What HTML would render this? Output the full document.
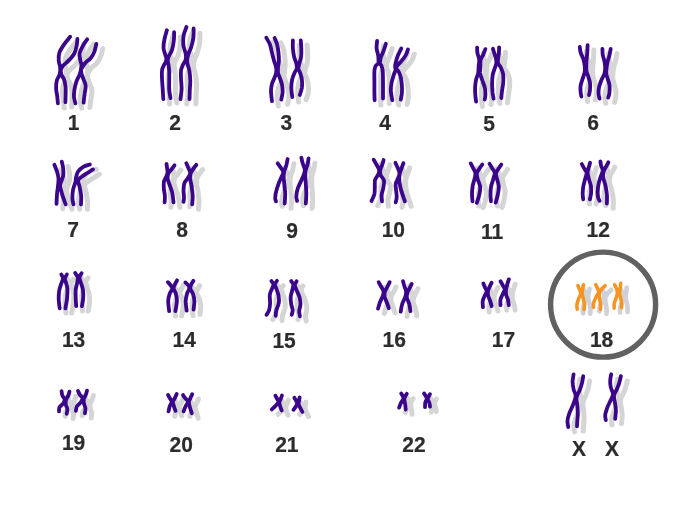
<!DOCTYPE html>
<html lang="en"><head><meta charset="utf-8"><title>Karyotype - Trisomy 18</title>
<style>
html,body{margin:0;padding:0;background:#fff;}
body{width:680px;height:510px;overflow:hidden;}
svg{display:block;filter:blur(0.4px);}
.l{font-family:"Liberation Sans",Arial,Helvetica,sans-serif;font-weight:bold;font-size:21px;fill:#2c2c2c;stroke:#2c2c2c;stroke-width:0.2px;text-anchor:middle;}
.s{fill:none;stroke:#d5d5d5;stroke-linecap:round;stroke-linejoin:round;}
.p{fill:none;stroke:#3a058a;stroke-linecap:round;stroke-linejoin:round;}
.o{fill:none;stroke:#f7931e;stroke-linecap:round;stroke-linejoin:round;}
</style></head><body>
<svg width="680" height="510" viewBox="0 0 680 510">
<rect width="680" height="510" fill="#fff"/>

<g class="s" transform="translate(6.3 4.8)">
<path stroke-width="5.0" d="M70.2 36.7C69.2 38.0 65.9 41.7 64.1 44.4C62.3 47.1 60.3 50.0 59.4 52.7C58.5 55.4 58.6 58.0 58.7 60.5C58.8 63.0 60.0 65.2 60.2 67.5C60.4 69.8 60.2 72.3 59.6 74.5C59.0 76.7 57.4 78.2 56.8 80.6C56.2 83.0 56.0 86.2 56.1 88.8C56.2 91.4 56.9 93.6 57.2 96.0C57.5 98.4 57.8 102.1 57.9 103.3M77.4 38.8C77.3 40.0 77.1 43.5 76.6 46.0C76.1 48.5 75.6 51.1 74.3 53.5C73.0 55.9 70.5 58.6 68.6 60.6C66.7 62.6 64.3 64.3 63.0 65.8C61.7 67.3 61.2 68.0 60.9 69.5C60.6 71.0 60.9 72.8 61.4 74.5C61.9 76.2 63.4 77.5 64.1 79.6C64.8 81.6 65.3 84.2 65.6 86.8C65.8 89.4 65.6 92.4 65.6 95.0C65.6 97.6 65.4 101.0 65.4 102.2M87.2 39.3C86.5 40.3 84.4 43.0 83.1 45.4C81.8 47.8 79.9 51.1 79.5 53.7C79.1 56.3 80.2 58.9 80.5 60.9C80.8 62.9 81.6 63.3 81.4 65.5C81.3 67.7 80.7 71.3 79.8 74.0C79.0 76.7 77.3 78.9 76.4 81.6C75.5 84.2 74.8 87.3 74.4 89.9C74.0 92.5 73.8 94.9 74.0 97.1C74.2 99.3 75.2 102.3 75.4 103.3M96.3 43.9C96.0 45.2 95.4 49.2 94.4 51.6C93.5 54.0 92.1 56.5 90.6 58.3C89.1 60.1 86.8 61.4 85.6 62.6C84.4 63.9 84.0 64.6 83.3 65.8C82.5 67.0 81.5 68.1 81.2 69.5C80.9 70.9 81.2 72.3 81.6 74.0C82.0 75.7 82.9 77.6 83.6 79.6C84.3 81.5 85.5 83.3 85.7 85.7C85.9 88.1 84.9 91.2 84.6 94.0C84.2 96.8 83.8 101.2 83.6 102.7"/>
<path stroke-width="5.0" d="M166.9 30.3C166.5 31.7 165.2 35.6 164.6 38.5C164.0 41.4 163.4 45.2 163.5 47.8C163.6 50.4 164.6 52.2 165.1 54.0C165.6 55.8 166.1 57.0 166.3 58.3C166.4 59.5 166.4 60.4 166.0 61.5C165.7 62.6 164.8 63.3 164.1 64.8C163.4 66.3 162.3 68.1 162.0 70.4C161.7 72.7 161.9 75.5 162.0 78.6C162.1 81.7 162.5 85.5 162.7 88.9C162.9 92.3 163.2 97.5 163.3 99.2M174.1 32.2C174.1 33.6 174.2 37.7 173.8 40.6C173.5 43.5 172.8 47.4 172.0 49.9C171.2 52.4 169.9 54.0 169.2 55.5C168.5 57.0 168.2 57.6 168.0 58.6C167.8 59.6 167.7 60.5 167.8 61.5C167.9 62.5 168.3 63.1 168.5 64.8C168.7 66.5 169.1 68.8 169.2 71.4C169.3 74.1 169.2 77.6 169.2 80.7C169.2 83.8 169.0 87.0 169.2 89.9C169.4 92.8 170.3 96.8 170.5 98.2M186.5 27.0C186.0 28.4 184.1 32.4 183.6 35.4C183.1 38.4 183.0 42.0 183.3 44.7C183.6 47.5 184.7 50.0 185.2 51.9C185.7 53.8 186.0 54.9 186.0 56.3C186.1 57.7 185.9 59.1 185.4 60.5C185.0 61.9 183.8 62.9 183.1 64.5C182.4 66.2 181.3 68.1 181.0 70.4C180.7 72.8 180.9 75.5 181.0 78.6C181.1 81.7 181.7 85.5 181.6 88.9C181.5 92.3 180.7 97.5 180.5 99.2M193.6 28.4C193.6 29.9 193.8 34.4 193.4 37.5C193.0 40.6 192.1 44.2 191.3 46.8C190.5 49.4 189.4 51.3 188.8 53.0C188.2 54.7 187.9 55.5 187.7 56.8C187.4 58.0 187.2 59.2 187.3 60.5C187.3 61.8 187.3 62.7 187.7 64.5C188.1 66.3 189.1 68.7 189.5 71.4C189.9 74.1 190.2 77.6 190.3 80.7C190.4 83.8 189.9 86.8 189.8 89.9C189.7 93.0 189.6 97.7 189.5 99.2"/>
<path stroke-width="5.0" d="M266.3 37.7C266.9 38.8 268.9 41.9 269.9 44.4C270.8 46.9 271.3 50.0 272.0 52.7C272.7 55.5 273.4 58.5 274.1 60.9C274.8 63.3 275.7 65.2 276.0 67.1C276.4 69.0 276.5 70.8 276.2 72.5C276.0 74.2 275.3 75.6 274.6 77.5C273.9 79.4 272.6 81.5 272.0 83.7C271.4 85.9 271.0 88.0 271.0 90.9C271.0 93.8 271.8 99.5 272.0 101.2M274.6 38.0C275.0 39.1 276.5 41.9 277.1 44.4C277.8 46.9 278.2 50.0 278.5 52.7C278.8 55.5 279.0 58.5 278.9 60.9C278.8 63.3 278.2 65.2 278.1 67.1C277.9 69.0 277.7 70.8 278.0 72.5C278.3 74.2 279.0 75.5 279.7 77.5C280.4 79.5 281.5 82.3 282.0 84.7C282.5 87.1 282.7 89.4 282.6 91.9C282.5 94.4 281.5 98.3 281.3 99.6M292.9 40.3C292.9 41.7 292.7 45.8 292.9 48.5C293.1 51.2 293.6 54.4 294.1 56.8C294.7 59.2 295.8 61.4 296.2 63.0C296.6 64.6 296.7 65.5 296.8 66.5C296.9 67.5 297.0 68.0 296.6 69.0C296.3 70.0 295.4 71.0 294.6 72.8C293.8 74.6 292.7 77.1 292.1 79.6C291.6 82.1 291.3 84.9 291.3 87.8C291.3 90.7 292.1 95.5 292.3 97.1M300.8 40.3C300.9 41.7 301.2 45.8 301.3 48.5C301.4 51.2 301.4 54.4 301.1 56.8C300.8 59.2 299.9 61.4 299.5 63.0C299.1 64.6 298.8 65.5 298.6 66.5C298.4 67.5 298.1 68.0 298.4 69.0C298.6 70.0 299.5 71.0 300.1 72.8C300.7 74.6 301.6 77.1 301.9 79.6C302.2 82.1 302.2 85.2 301.9 87.8C301.5 90.4 300.1 93.8 299.8 95.0"/>
<path stroke-width="5.0" d="M377.1 41.0C377.0 42.2 376.4 46.0 376.6 48.4C376.8 50.8 377.9 53.5 378.2 55.6C378.5 57.7 378.5 59.4 378.5 60.7C378.5 62.0 378.8 62.6 378.3 63.5C377.8 64.4 376.2 64.8 375.6 66.0C375.0 67.2 374.6 68.6 374.4 71.0C374.2 73.4 374.4 77.3 374.4 80.6C374.4 83.9 374.4 87.6 374.4 90.9C374.4 94.2 374.6 98.7 374.6 100.2M385.9 43.8C385.5 45.1 384.2 49.2 383.3 51.5C382.4 53.8 381.2 56.1 380.7 57.7C380.2 59.3 380.3 60.0 380.2 61.0C380.1 62.0 379.8 62.7 380.0 63.5C380.2 64.3 381.1 64.5 381.6 66.0C382.1 67.5 382.6 69.6 382.8 72.4C383.0 75.2 383.0 79.5 383.0 82.7C383.0 86.0 383.0 89.2 383.0 91.9C383.0 94.6 383.0 97.5 383.0 98.6M401.3 48.4C400.8 49.4 399.2 52.5 398.3 54.6C397.4 56.7 396.7 58.8 396.2 60.7C395.7 62.6 395.3 64.4 395.1 65.9C395.0 67.5 395.8 68.4 395.5 70.0C395.2 71.6 394.2 73.3 393.6 75.4C393.0 77.5 392.1 80.1 391.6 82.7C391.1 85.3 390.7 88.0 390.8 90.9C390.9 93.8 392.1 98.7 392.3 100.2M408.0 49.4C407.6 50.4 406.7 53.5 405.5 55.6C404.3 57.7 402.2 60.1 400.8 61.8C399.4 63.5 397.9 64.9 397.2 66.0C396.4 67.1 396.1 67.5 396.4 68.5C396.7 69.5 398.1 70.5 398.8 72.0C399.5 73.5 400.3 75.2 400.8 77.5C401.3 79.8 401.7 83.1 401.9 85.7C402.1 88.3 402.1 90.7 401.9 93.0C401.7 95.3 401.0 98.5 400.8 99.6"/>
<path stroke-width="5.0" d="M477.1 47.7C477.2 48.7 477.1 51.4 477.5 53.4C477.9 55.4 479.0 57.5 479.2 59.6C479.4 61.7 478.9 63.8 478.7 66.0C478.5 68.2 478.6 70.8 478.2 73.0C477.8 75.2 476.6 77.0 476.1 79.5C475.6 82.0 475.2 85.0 475.1 87.7C475.0 90.5 475.2 93.7 475.4 96.0C475.6 98.3 476.0 100.7 476.1 101.6M485.4 49.1C485.0 50.0 484.1 52.6 483.3 54.4C482.5 56.1 481.2 57.7 480.7 59.6C480.2 61.5 480.6 63.8 480.5 66.0C480.4 68.2 479.8 70.8 480.0 73.0C480.3 75.2 481.2 77.0 482.0 79.5C482.8 82.0 484.3 85.1 484.9 87.7C485.5 90.3 485.4 93.0 485.4 95.0C485.4 97.0 484.8 98.8 484.7 99.6M492.9 48.8C493.2 49.7 494.2 52.7 494.7 54.4C495.2 56.1 495.8 57.6 496.1 59.1C496.3 60.6 496.5 61.9 496.3 63.5C496.1 65.1 495.3 66.5 494.7 68.5C494.1 70.5 493.0 72.7 492.6 75.4C492.2 78.1 492.1 81.8 492.1 84.7C492.1 87.6 492.4 90.6 492.6 92.9C492.9 95.2 493.4 97.6 493.6 98.6M499.1 47.4C499.1 48.4 499.0 51.4 498.8 53.4C498.6 55.4 498.1 57.4 498.0 59.1C497.9 60.8 497.7 62.1 498.1 63.5C498.6 64.9 500.0 65.7 500.8 67.5C501.6 69.3 502.8 71.9 503.2 74.4C503.6 76.9 503.4 79.7 503.2 82.6C503.0 85.5 502.2 89.3 501.9 91.9C501.6 94.5 501.4 97.0 501.3 98.0"/>
<path stroke-width="5.0" d="M579.8 46.8C579.9 47.7 580.0 50.4 580.6 52.4C581.2 54.4 582.5 56.5 583.2 58.6C583.9 60.7 584.3 62.6 584.6 64.8C584.8 67.0 585.1 69.2 584.8 71.5C584.5 73.8 583.4 76.1 582.7 78.5C582.0 80.9 581.0 83.5 580.6 85.7C580.2 87.9 580.5 90.1 580.6 91.9C580.7 93.7 581.3 95.8 581.4 96.6M587.6 45.2C587.5 46.4 587.5 50.0 587.3 52.4C587.1 54.8 586.8 57.5 586.6 59.6C586.4 61.8 586.3 63.3 586.3 65.3C586.3 67.3 586.2 69.5 586.6 71.5C587.0 73.5 588.0 75.5 588.6 77.5C589.2 79.5 589.9 81.5 590.1 83.7C590.3 85.9 590.1 89.0 589.9 90.9C589.7 92.8 589.1 94.3 589.0 95.0M602.4 48.8C602.5 49.8 602.4 52.5 602.7 54.5C603.0 56.5 603.9 58.7 604.3 60.7C604.7 62.8 605.1 64.7 605.2 66.8C605.2 68.9 605.2 71.2 604.5 73.5C603.9 75.8 602.1 78.2 601.2 80.6C600.3 83.0 599.3 85.6 598.9 87.8C598.5 90.0 598.5 92.2 598.6 94.0C598.7 95.8 599.4 97.8 599.6 98.6M610.7 48.8C610.5 49.9 609.9 53.4 609.4 55.5C608.9 57.6 608.0 59.7 607.6 61.7C607.2 63.7 606.9 65.4 606.7 67.4C606.5 69.4 606.2 71.7 606.4 73.5C606.5 75.3 607.1 76.5 607.6 78.5C608.1 80.5 609.3 83.3 609.6 85.7C609.9 88.1 609.6 91.0 609.4 93.0C609.2 95.0 608.4 96.8 608.2 97.6"/>
<path stroke-width="5.0" d="M54.4 164.8C54.8 165.9 56.3 169.2 57.0 171.5C57.7 173.8 58.3 176.3 58.5 178.7C58.7 181.1 58.2 183.3 58.0 185.9C57.8 188.5 57.2 191.1 57.0 194.1C56.8 197.1 56.6 202.3 56.5 203.9M61.8 161.7C62.0 162.8 63.0 166.1 63.2 168.4C63.4 170.7 63.6 173.4 63.2 175.6C62.9 177.8 61.6 180.1 61.1 181.8C60.6 183.5 59.9 183.9 60.1 185.9C60.3 187.9 61.2 191.0 62.1 194.1C63.0 197.2 65.1 202.7 65.7 204.4M89.9 164.5C88.8 164.9 85.3 165.6 83.3 166.8C81.3 168.0 79.3 169.7 78.1 171.5C76.9 173.3 76.4 176.0 76.0 177.7C75.6 179.4 76.0 179.8 75.5 181.8C75.0 183.9 73.5 187.2 73.0 190.0C72.5 192.8 72.3 195.9 72.4 198.3C72.5 200.7 73.3 203.4 73.5 204.4M93.0 169.4C92.1 170.0 89.4 171.7 87.4 173.0C85.4 174.3 82.8 175.8 81.2 177.1C79.7 178.4 78.4 179.1 78.1 180.7C77.8 182.3 79.1 184.3 79.6 186.9C80.1 189.5 81.0 193.3 81.2 196.2C81.4 199.1 81.0 203.0 81.0 204.4"/>
<path stroke-width="5.0" d="M166.5 163.8C166.6 164.7 167.1 167.9 167.3 169.4C167.5 170.9 167.7 171.7 167.5 173.0C167.3 174.3 166.6 175.6 166.0 177.1C165.4 178.6 164.2 179.8 163.9 181.8C163.6 183.8 163.7 186.6 163.9 189.0C164.1 191.4 164.8 194.0 164.9 196.2C165.0 198.4 164.7 201.4 164.6 202.4M174.5 165.3C173.9 166.1 172.1 168.5 171.1 169.9C170.1 171.3 168.9 172.0 168.3 173.5C167.7 175.0 167.5 176.8 167.7 178.7C167.9 180.6 168.9 182.7 169.6 184.9C170.3 187.1 171.4 189.2 172.1 192.1C172.8 195.0 173.3 200.7 173.5 202.4M186.3 163.2C186.7 164.1 187.9 166.8 188.6 168.4C189.2 170.0 190.3 171.4 190.2 173.0C190.1 174.6 189.0 176.1 188.1 177.7C187.2 179.3 185.3 180.8 184.5 182.8C183.7 184.9 183.6 187.6 183.5 190.0C183.4 192.4 184.0 195.2 184.0 197.2C184.0 199.2 183.6 201.1 183.5 201.9M196.3 164.8C195.8 165.5 194.2 167.5 193.3 168.9C192.4 170.3 191.2 171.7 190.7 173.5C190.2 175.3 190.2 177.5 190.4 179.7C190.6 181.9 191.3 184.2 191.7 186.9C192.1 189.7 192.6 193.3 192.7 196.2C192.8 199.1 192.3 203.0 192.2 204.4"/>
<path stroke-width="5.0" d="M277.7 163.3C278.2 164.0 279.7 165.9 280.6 167.4C281.5 168.9 283.0 170.6 283.2 172.1C283.4 173.6 282.4 174.7 281.6 176.7C280.8 178.7 279.4 181.3 278.5 183.9C277.6 186.5 276.6 189.7 276.0 192.1C275.4 194.5 275.2 196.8 275.2 198.3C275.2 199.9 275.9 200.9 276.0 201.4M287.6 159.0C287.4 160.1 286.9 163.3 286.3 165.4C285.7 167.5 284.6 169.4 284.2 171.5C283.8 173.6 283.6 175.3 283.7 177.7C283.8 180.1 284.2 183.2 284.5 186.0C284.8 188.8 285.2 191.3 285.2 194.2C285.2 197.1 284.8 201.9 284.7 203.5M301.4 157.6C301.6 158.6 302.1 161.3 302.7 163.3C303.3 165.3 304.6 167.6 304.8 169.5C305.0 171.4 304.5 172.5 303.8 174.6C303.1 176.7 301.7 179.4 300.7 181.8C299.7 184.2 298.3 186.6 297.6 189.0C296.9 191.4 296.4 194.3 296.3 196.3C296.2 198.3 297.0 200.1 297.1 200.9M308.6 158.4C308.4 159.4 308.1 162.4 307.6 164.3C307.1 166.2 306.2 167.9 305.8 170.0C305.4 172.1 305.3 174.4 305.3 176.7C305.3 179.0 305.6 181.0 305.8 183.9C306.0 186.8 306.3 190.9 306.3 194.2C306.3 197.5 305.9 201.9 305.8 203.5"/>
<path stroke-width="5.0" d="M373.7 159.7C374.2 160.5 375.7 163.1 376.6 164.8C377.5 166.5 378.9 168.4 379.2 170.0C379.5 171.6 378.9 173.0 378.2 174.6C377.5 176.2 375.7 177.7 375.1 179.8C374.5 181.9 374.9 184.6 374.8 187.0C374.7 189.4 374.9 191.9 374.4 194.2C373.8 196.5 372.0 199.8 371.5 200.9M383.6 160.0C383.3 160.9 382.6 163.7 382.0 165.4C381.4 167.2 380.4 168.9 380.2 170.5C380.0 172.1 380.1 173.4 380.7 175.1C381.3 176.8 383.6 178.7 384.0 180.8C384.4 183.0 383.7 185.6 383.3 188.0C382.9 190.4 381.8 193.0 381.6 195.2C381.4 197.4 381.9 200.4 382.0 201.4M395.4 162.8C395.8 163.7 397.0 166.2 397.7 167.9C398.4 169.6 399.4 171.5 399.5 173.1C399.6 174.7 398.9 175.9 398.3 177.7C397.7 179.5 396.1 181.7 395.7 183.9C395.3 186.1 396.0 188.9 396.2 191.1C396.4 193.3 396.8 195.4 396.7 197.3C396.6 199.2 395.9 201.6 395.7 202.4M403.4 163.1C403.1 164.0 402.1 166.7 401.5 168.4C400.9 170.2 400.2 171.7 399.8 173.6C399.4 175.5 399.2 177.6 399.3 179.8C399.4 182.0 399.8 184.6 400.3 187.0C400.8 189.4 401.6 191.8 402.4 194.2C403.2 196.6 404.5 200.2 404.9 201.4"/>
<path stroke-width="5.0" d="M470.7 163.4C471.1 164.2 472.5 166.8 473.3 168.4C474.1 170.0 475.2 171.3 475.4 173.0C475.6 174.7 475.1 176.5 474.6 178.7C474.2 180.8 473.1 183.3 472.7 185.9C472.3 188.5 472.0 191.5 472.0 194.1C472.0 196.7 472.4 200.1 472.5 201.3M482.3 164.5C481.8 165.2 480.1 167.4 479.2 168.9C478.3 170.4 477.0 171.7 476.8 173.5C476.6 175.3 477.3 177.5 477.9 179.7C478.5 181.9 480.0 184.3 480.2 186.9C480.4 189.5 479.8 192.5 479.2 195.2C478.6 197.9 477.2 201.6 476.8 202.9M489.5 163.8C490.0 164.6 491.4 166.9 492.3 168.4C493.2 169.9 494.6 171.1 494.7 173.0C494.8 174.9 493.7 177.4 493.1 179.7C492.5 182.0 491.4 184.3 491.0 186.9C490.6 189.5 490.5 192.8 490.5 195.2C490.5 197.6 490.9 200.3 491.0 201.3M501.3 164.5C500.8 165.2 499.2 167.4 498.3 168.9C497.4 170.4 496.2 171.7 496.0 173.5C495.8 175.3 496.7 177.5 497.2 179.7C497.7 181.9 498.7 184.3 498.8 186.9C498.9 189.5 498.2 192.6 497.7 195.2C497.2 197.8 496.0 201.4 495.7 202.6"/>
<path stroke-width="5.0" d="M581.8 164.1C582.2 164.8 583.4 167.0 584.2 168.4C585.0 169.8 586.4 170.9 586.6 172.6C586.8 174.3 585.8 176.3 585.2 178.7C584.6 181.1 583.6 184.4 583.2 187.0C582.8 189.6 582.7 192.1 582.7 194.2C582.7 196.2 583.1 198.5 583.2 199.3M590.1 162.8C589.9 163.6 589.2 165.8 588.8 167.4C588.4 169.0 587.6 170.7 587.6 172.6C587.6 174.5 588.2 176.5 588.8 178.7C589.3 180.9 590.5 183.6 590.9 186.0C591.3 188.4 591.3 191.0 591.1 193.2C590.9 195.4 590.1 198.3 589.9 199.3M600.4 161.4C600.5 162.2 600.8 164.4 601.2 165.9C601.6 167.4 602.8 168.7 602.7 170.5C602.6 172.3 601.4 174.5 600.7 176.7C600.0 178.9 599.1 181.3 598.6 183.9C598.1 186.5 597.7 189.9 597.6 192.1C597.5 194.3 597.8 195.8 598.1 197.3C598.4 198.8 599.4 200.3 599.6 200.9M608.4 162.3C608.0 163.0 607.1 165.0 606.3 166.4C605.5 167.8 604.3 169.1 603.8 171.0C603.3 172.9 603.0 175.4 603.3 177.7C603.5 180.0 604.7 182.2 605.3 184.9C605.9 187.7 606.6 191.1 606.9 194.2C607.2 197.3 606.9 201.9 606.9 203.5"/>
<path stroke-width="5.0" d="M61.3 274.5C61.6 275.1 63.0 276.9 63.0 278.4C63.0 279.9 61.9 281.4 61.3 283.5C60.7 285.6 59.6 288.1 59.2 290.7C58.8 293.3 58.6 296.1 58.7 299.0C58.8 301.9 59.5 306.8 59.7 308.3M66.9 274.5C66.6 275.1 65.1 277.1 64.9 278.4C64.7 279.7 65.5 280.8 65.9 282.5C66.3 284.2 67.2 286.1 67.4 288.7C67.6 291.3 67.4 294.7 67.1 298.0C66.8 301.3 65.7 306.6 65.4 308.3M75.2 273.0C75.6 273.7 77.4 275.8 77.7 277.4C78.0 279.0 77.5 280.4 77.2 282.5C76.9 284.6 76.0 287.1 75.7 289.7C75.5 292.3 75.6 295.2 75.7 298.0C75.8 300.8 76.1 304.8 76.2 306.2M81.6 273.2C81.2 273.9 79.6 275.8 79.5 277.4C79.4 278.9 80.2 280.4 80.8 282.5C81.4 284.6 82.5 287.1 82.9 289.7C83.3 292.3 83.4 295.2 83.2 298.0C83.0 300.8 82.1 304.8 81.9 306.2"/>
<path stroke-width="5.0" d="M167.9 282.2C168.4 282.7 170.0 284.3 170.7 285.4C171.4 286.4 172.5 287.1 172.3 288.5C172.1 289.9 170.4 291.6 169.7 293.7C169.0 295.8 168.3 298.0 168.2 300.9C168.1 303.8 169.0 309.5 169.2 311.2M177.1 280.3C176.7 281.0 175.5 283.0 174.9 284.4C174.3 285.8 173.4 286.9 173.6 288.5C173.8 290.1 175.3 291.6 175.9 293.7C176.5 295.8 177.0 298.0 176.9 300.9C176.8 303.8 175.7 309.5 175.4 311.2M185.4 282.4C185.9 282.9 187.7 284.4 188.3 285.4C189.0 286.4 189.5 287.1 189.3 288.5C189.1 289.9 187.6 291.6 187.0 293.7C186.4 295.8 185.8 298.1 185.7 300.9C185.6 303.7 186.5 309.1 186.7 310.7M193.4 280.8C193.0 281.5 191.6 283.6 191.1 284.9C190.6 286.2 190.0 287.0 190.3 288.5C190.6 290.0 192.2 291.6 192.9 293.7C193.6 295.8 194.3 298.2 194.4 300.9C194.5 303.5 193.7 308.2 193.6 309.6"/>
<path stroke-width="5.0" d="M271.4 281.1C271.8 281.7 273.4 283.2 273.5 284.4C273.6 285.6 272.7 286.8 272.1 288.5C271.5 290.2 270.1 292.3 269.8 294.7C269.5 297.1 270.2 300.4 270.1 303.0C270.0 305.6 269.7 308.2 269.1 310.2C268.5 312.2 266.9 314.0 266.5 314.8M277.0 280.8C276.6 281.4 275.0 283.1 274.9 284.4C274.8 285.7 275.7 286.6 276.3 288.5C276.9 290.4 278.2 293.3 278.6 295.7C279.0 298.1 279.2 300.6 278.8 303.0C278.4 305.4 276.8 308.1 276.3 310.2C275.8 312.3 275.8 314.9 275.7 315.8M291.2 281.1C291.6 281.7 293.1 283.0 293.3 284.4C293.5 285.8 292.8 287.5 292.4 289.6C292.0 291.7 290.9 294.4 290.7 296.8C290.5 299.2 290.9 301.8 291.2 304.0C291.5 306.2 292.6 308.4 292.7 310.2C292.8 312.0 291.9 314.0 291.7 314.8M296.6 281.3C296.3 281.9 294.9 283.5 294.8 284.9C294.8 286.3 295.5 287.6 296.3 289.6C297.1 291.6 298.7 294.4 299.4 296.8C300.1 299.2 300.5 301.6 300.5 304.0C300.5 306.4 299.3 309.1 299.2 311.2C299.1 313.2 299.8 315.4 299.9 316.3"/>
<path stroke-width="5.0" d="M378.7 282.2C379.1 282.9 380.3 285.0 381.1 286.5C381.9 288.0 383.2 289.6 383.5 291.1C383.8 292.6 383.5 293.9 382.9 295.7C382.3 297.5 380.9 299.8 380.1 301.9C379.3 304.0 378.4 307.5 378.0 308.6M389.7 282.2C389.3 283.0 388.1 285.4 387.3 287.0C386.5 288.6 385.3 290.0 384.9 291.6C384.5 293.2 384.3 294.9 384.7 296.8C385.1 298.7 386.3 301.1 387.0 303.0C387.7 304.9 388.5 307.2 388.8 308.1M403.0 281.1C403.2 282.0 404.0 284.8 404.5 286.5C405.0 288.2 406.0 289.9 406.1 291.6C406.2 293.3 406.0 294.7 405.3 296.8C404.6 298.9 403.0 301.5 402.2 304.0C401.4 306.5 400.9 310.4 400.7 311.7M411.7 283.9C411.3 284.7 410.1 287.0 409.4 288.5C408.7 290.0 407.8 291.1 407.4 292.7C407.0 294.2 406.6 295.9 406.9 297.8C407.2 299.7 408.6 301.8 409.2 304.0C409.8 306.2 410.3 310.0 410.5 311.2"/>
<path stroke-width="5.0" d="M483.3 283.5C483.6 284.2 484.6 286.4 485.1 287.7C485.7 289.0 486.7 289.9 486.6 291.3C486.5 292.7 485.2 294.3 484.6 295.9C484.0 297.5 483.0 299.1 482.7 301.0C482.4 302.9 482.9 306.2 483.0 307.2M491.6 282.7C491.2 283.4 490.1 285.7 489.5 287.1C488.9 288.5 488.1 289.8 487.9 291.3C487.7 292.8 487.8 294.3 488.2 295.9C488.6 297.5 489.6 299.3 490.2 301.0C490.8 302.7 491.4 305.3 491.6 306.2M500.5 281.3C500.9 282.0 502.2 284.2 502.9 285.6C503.6 287.0 504.8 288.2 504.7 289.7C504.6 291.2 503.3 292.8 502.6 294.4C501.9 296.0 500.9 297.7 500.5 299.5C500.1 301.3 500.5 304.2 500.5 305.2M508.8 279.4C508.5 280.3 507.7 282.9 507.2 284.6C506.7 286.3 506.2 288.0 506.0 289.7C505.8 291.4 505.9 293.2 506.2 294.9C506.5 296.6 507.6 298.3 508.0 300.0C508.4 301.7 508.7 304.3 508.8 305.2"/>
<path stroke-width="5.0" d="M61.6 391.2C61.7 391.9 61.8 394.1 62.3 395.4C62.8 396.7 64.4 397.9 64.6 399.2C64.8 400.5 64.0 402.1 63.2 403.4C62.4 404.7 60.2 405.9 59.5 407.2C58.8 408.5 59.1 410.7 59.0 411.4M69.5 391.6C69.3 392.3 68.8 394.6 68.2 395.9C67.6 397.2 66.5 398.2 66.1 399.6C65.7 401.0 65.6 402.8 65.8 404.4C66.0 406.0 67.1 407.5 67.3 409.1C67.5 410.7 66.8 413.0 66.7 413.8M78.0 391.0C78.3 391.6 79.2 393.7 79.9 394.9C80.7 396.1 82.4 396.9 82.5 398.2C82.6 399.5 81.5 401.2 80.6 402.5C79.7 403.8 77.7 404.8 76.9 406.2C76.1 407.6 76.1 410.1 75.9 410.9M87.0 390.7C86.8 391.4 86.3 393.6 85.8 394.9C85.3 396.2 84.2 397.3 83.9 398.7C83.6 400.1 83.7 401.8 83.9 403.4C84.2 405.0 85.2 406.5 85.4 408.1C85.6 409.8 85.0 412.4 84.9 413.3"/>
<path stroke-width="5.0" d="M168.0 394.9C168.3 395.5 169.5 397.5 170.1 398.7C170.7 399.9 171.8 400.7 171.7 402.0C171.6 403.3 170.1 405.1 169.6 406.7C169.1 408.3 168.7 410.6 168.5 411.4M176.7 394.0C176.4 394.7 175.4 396.9 174.8 398.2C174.2 399.5 173.1 400.7 172.9 402.0C172.8 403.3 173.5 404.7 173.9 406.2C174.3 407.7 175.2 410.1 175.5 410.9M183.0 395.1C183.4 395.7 184.8 397.6 185.6 398.7C186.4 399.8 188.0 400.8 188.0 402.0C188.0 403.2 186.3 404.6 185.6 406.2C184.9 407.8 183.9 410.5 183.6 411.4M192.2 394.2C191.9 394.9 190.9 396.9 190.4 398.2C189.9 399.5 189.0 400.5 188.9 402.0C188.8 403.5 189.4 405.3 189.9 407.2C190.4 409.1 191.5 412.3 191.8 413.3"/>
<path stroke-width="5.0" d="M275.4 395.7C275.7 396.3 276.8 398.1 277.3 399.2C277.8 400.2 278.7 400.9 278.4 402.0C278.1 403.1 276.7 404.6 275.6 405.8C274.5 407.1 272.4 408.9 271.8 409.5M282.0 395.4C281.8 395.9 281.2 397.5 280.8 398.7C280.4 399.9 279.5 401.2 279.4 402.5C279.3 403.8 279.9 405.4 280.3 406.7C280.7 408.0 281.5 409.9 281.7 410.5M294.4 397.8C294.7 398.4 295.8 400.1 296.3 401.1C296.8 402.1 297.4 402.9 297.2 403.9C297.0 404.9 296.0 406.2 295.4 407.2C294.8 408.2 293.8 409.4 293.5 409.8M299.6 397.3C299.5 397.9 299.3 399.5 299.1 400.6C298.9 401.7 298.4 402.7 298.6 403.9C298.8 405.1 299.5 406.3 300.1 407.6C300.7 408.9 302.0 411.2 302.4 411.9"/>
<path stroke-width="5.0" d="M401.2 393.5C401.5 394.0 402.5 395.5 402.9 396.4C403.3 397.3 403.7 397.6 403.4 398.7C403.1 399.8 401.7 401.4 401.0 402.9C400.3 404.4 399.4 406.8 399.1 407.6M406.8 393.8C406.5 394.2 405.6 395.5 405.2 396.4C404.8 397.3 404.3 397.9 404.3 399.2C404.3 400.5 405.0 402.7 405.2 404.4C405.4 406.1 405.6 408.6 405.7 409.5M424.1 393.5C424.4 394.0 425.4 395.5 425.9 396.4C426.4 397.3 427.0 397.7 426.9 398.7C426.8 399.7 425.6 401.1 425.3 402.5C425.0 403.9 425.1 406.4 425.0 407.2M430.0 394.2C429.8 394.6 428.9 396.0 428.5 396.8C428.1 397.6 427.7 398.2 427.8 399.2C427.9 400.2 429.0 401.6 429.4 402.9C429.8 404.1 429.9 406.1 430.0 406.7"/>
<path stroke-width="5.0" d="M573.6 374.3C573.4 375.6 572.6 379.3 572.6 381.8C572.6 384.3 573.1 386.9 573.6 389.3C574.1 391.7 575.8 393.7 575.7 396.2C575.6 398.7 574.2 401.6 573.2 404.4C572.2 407.2 570.4 410.5 569.4 413.2C568.4 415.9 567.7 418.4 567.5 420.7C567.3 423.0 568.1 425.9 568.2 427.0M583.2 376.2C583.0 377.4 582.6 380.7 582.0 383.1C581.4 385.5 580.4 388.2 579.5 390.6C578.6 393.0 577.0 395.0 576.6 397.5C576.2 400.0 577.1 402.8 577.3 405.6C577.5 408.4 577.8 411.9 577.8 414.4C577.8 416.9 577.4 418.7 577.3 420.7C577.2 422.7 577.0 425.4 577.0 426.3M611.2 374.3C611.0 375.3 610.3 378.3 610.2 380.5C610.1 382.7 610.3 385.1 610.8 387.4C611.3 389.7 613.1 392.0 613.0 394.3C612.9 396.6 611.2 398.9 610.2 401.2C609.2 403.5 607.9 405.8 607.1 408.1C606.3 410.4 605.4 413.0 605.2 415.0C605.0 417.0 605.7 419.2 605.8 420.1M620.9 376.2C620.6 377.4 619.9 380.8 619.2 383.1C618.5 385.4 617.4 387.9 616.5 390.0C615.6 392.1 614.2 393.4 614.0 395.6C613.8 397.8 614.7 400.6 615.0 403.1C615.3 405.6 615.9 408.1 615.9 410.7C615.9 413.3 615.3 417.4 615.2 418.8"/>
</g>
<path class="s" transform="translate(6 4.2)" stroke="#ced2d8" style="stroke:#ced2d8" stroke-width="4.7" d="M577.9 285.6C578.2 286.3 579.3 288.6 579.8 289.9C580.3 291.2 580.9 292.0 580.7 293.6C580.5 295.2 579.0 297.4 578.4 299.3C577.8 301.2 577.1 303.2 576.9 304.9C576.7 306.5 577.2 308.5 577.2 309.2M583.5 284.7C583.4 285.5 582.8 287.9 582.6 289.4C582.4 290.9 582.0 292.0 582.1 293.6C582.2 295.2 583.1 297.4 583.5 299.3C583.9 301.2 584.4 303.2 584.5 304.9C584.6 306.6 584.2 308.8 584.2 309.6M595.8 284.7C596.1 285.3 597.1 287.2 597.6 288.5C598.1 289.8 598.8 290.8 598.6 292.2C598.4 293.6 597.0 295.2 596.2 296.9C595.4 298.5 594.4 300.4 593.9 302.1C593.4 303.8 593.5 306.4 593.4 307.3M605.2 285.6C604.7 286.2 602.9 287.7 601.9 288.9C600.9 290.1 599.9 291.1 599.5 292.7C599.1 294.3 599.3 296.5 599.5 298.4C599.7 300.3 600.3 302.1 600.5 304.0C600.7 305.9 600.5 308.7 600.5 309.6M614.6 284.7C614.9 285.4 616.0 287.5 616.5 288.9C617.0 290.3 617.5 291.6 617.4 293.2C617.3 294.8 616.5 296.8 616.0 298.4C615.5 300.0 614.6 301.5 614.3 303.1C614.0 304.7 614.1 307.4 614.1 308.2M620.7 283.3C620.6 284.2 620.4 286.9 620.2 288.5C620.0 290.1 619.5 291.6 619.6 293.2C619.7 294.8 620.4 296.8 620.7 298.4C621.0 300.0 621.5 301.5 621.6 303.1C621.7 304.7 621.5 307.0 621.5 307.8"/>
<path class="p" stroke-width="3.8" d="M70.2 36.7C69.2 38.0 65.9 41.7 64.1 44.4C62.3 47.1 60.3 50.0 59.4 52.7C58.5 55.4 58.6 58.0 58.7 60.5C58.8 63.0 60.0 65.2 60.2 67.5C60.4 69.8 60.2 72.3 59.6 74.5C59.0 76.7 57.4 78.2 56.8 80.6C56.2 83.0 56.0 86.2 56.1 88.8C56.2 91.4 56.9 93.6 57.2 96.0C57.5 98.4 57.8 102.1 57.9 103.3M77.4 38.8C77.3 40.0 77.1 43.5 76.6 46.0C76.1 48.5 75.6 51.1 74.3 53.5C73.0 55.9 70.5 58.6 68.6 60.6C66.7 62.6 64.3 64.3 63.0 65.8C61.7 67.3 61.2 68.0 60.9 69.5C60.6 71.0 60.9 72.8 61.4 74.5C61.9 76.2 63.4 77.5 64.1 79.6C64.8 81.6 65.3 84.2 65.6 86.8C65.8 89.4 65.6 92.4 65.6 95.0C65.6 97.6 65.4 101.0 65.4 102.2M87.2 39.3C86.5 40.3 84.4 43.0 83.1 45.4C81.8 47.8 79.9 51.1 79.5 53.7C79.1 56.3 80.2 58.9 80.5 60.9C80.8 62.9 81.6 63.3 81.4 65.5C81.3 67.7 80.7 71.3 79.8 74.0C79.0 76.7 77.3 78.9 76.4 81.6C75.5 84.2 74.8 87.3 74.4 89.9C74.0 92.5 73.8 94.9 74.0 97.1C74.2 99.3 75.2 102.3 75.4 103.3M96.3 43.9C96.0 45.2 95.4 49.2 94.4 51.6C93.5 54.0 92.1 56.5 90.6 58.3C89.1 60.1 86.8 61.4 85.6 62.6C84.4 63.9 84.0 64.6 83.3 65.8C82.5 67.0 81.5 68.1 81.2 69.5C80.9 70.9 81.2 72.3 81.6 74.0C82.0 75.7 82.9 77.6 83.6 79.6C84.3 81.5 85.5 83.3 85.7 85.7C85.9 88.1 84.9 91.2 84.6 94.0C84.2 96.8 83.8 101.2 83.6 102.7"/>
<path class="p" stroke-width="3.8" d="M166.9 30.3C166.5 31.7 165.2 35.6 164.6 38.5C164.0 41.4 163.4 45.2 163.5 47.8C163.6 50.4 164.6 52.2 165.1 54.0C165.6 55.8 166.1 57.0 166.3 58.3C166.4 59.5 166.4 60.4 166.0 61.5C165.7 62.6 164.8 63.3 164.1 64.8C163.4 66.3 162.3 68.1 162.0 70.4C161.7 72.7 161.9 75.5 162.0 78.6C162.1 81.7 162.5 85.5 162.7 88.9C162.9 92.3 163.2 97.5 163.3 99.2M174.1 32.2C174.1 33.6 174.2 37.7 173.8 40.6C173.5 43.5 172.8 47.4 172.0 49.9C171.2 52.4 169.9 54.0 169.2 55.5C168.5 57.0 168.2 57.6 168.0 58.6C167.8 59.6 167.7 60.5 167.8 61.5C167.9 62.5 168.3 63.1 168.5 64.8C168.7 66.5 169.1 68.8 169.2 71.4C169.3 74.1 169.2 77.6 169.2 80.7C169.2 83.8 169.0 87.0 169.2 89.9C169.4 92.8 170.3 96.8 170.5 98.2M186.5 27.0C186.0 28.4 184.1 32.4 183.6 35.4C183.1 38.4 183.0 42.0 183.3 44.7C183.6 47.5 184.7 50.0 185.2 51.9C185.7 53.8 186.0 54.9 186.0 56.3C186.1 57.7 185.9 59.1 185.4 60.5C185.0 61.9 183.8 62.9 183.1 64.5C182.4 66.2 181.3 68.1 181.0 70.4C180.7 72.8 180.9 75.5 181.0 78.6C181.1 81.7 181.7 85.5 181.6 88.9C181.5 92.3 180.7 97.5 180.5 99.2M193.6 28.4C193.6 29.9 193.8 34.4 193.4 37.5C193.0 40.6 192.1 44.2 191.3 46.8C190.5 49.4 189.4 51.3 188.8 53.0C188.2 54.7 187.9 55.5 187.7 56.8C187.4 58.0 187.2 59.2 187.3 60.5C187.3 61.8 187.3 62.7 187.7 64.5C188.1 66.3 189.1 68.7 189.5 71.4C189.9 74.1 190.2 77.6 190.3 80.7C190.4 83.8 189.9 86.8 189.8 89.9C189.7 93.0 189.6 97.7 189.5 99.2"/>
<path class="p" stroke-width="3.8" d="M266.3 37.7C266.9 38.8 268.9 41.9 269.9 44.4C270.8 46.9 271.3 50.0 272.0 52.7C272.7 55.5 273.4 58.5 274.1 60.9C274.8 63.3 275.7 65.2 276.0 67.1C276.4 69.0 276.5 70.8 276.2 72.5C276.0 74.2 275.3 75.6 274.6 77.5C273.9 79.4 272.6 81.5 272.0 83.7C271.4 85.9 271.0 88.0 271.0 90.9C271.0 93.8 271.8 99.5 272.0 101.2M274.6 38.0C275.0 39.1 276.5 41.9 277.1 44.4C277.8 46.9 278.2 50.0 278.5 52.7C278.8 55.5 279.0 58.5 278.9 60.9C278.8 63.3 278.2 65.2 278.1 67.1C277.9 69.0 277.7 70.8 278.0 72.5C278.3 74.2 279.0 75.5 279.7 77.5C280.4 79.5 281.5 82.3 282.0 84.7C282.5 87.1 282.7 89.4 282.6 91.9C282.5 94.4 281.5 98.3 281.3 99.6M292.9 40.3C292.9 41.7 292.7 45.8 292.9 48.5C293.1 51.2 293.6 54.4 294.1 56.8C294.7 59.2 295.8 61.4 296.2 63.0C296.6 64.6 296.7 65.5 296.8 66.5C296.9 67.5 297.0 68.0 296.6 69.0C296.3 70.0 295.4 71.0 294.6 72.8C293.8 74.6 292.7 77.1 292.1 79.6C291.6 82.1 291.3 84.9 291.3 87.8C291.3 90.7 292.1 95.5 292.3 97.1M300.8 40.3C300.9 41.7 301.2 45.8 301.3 48.5C301.4 51.2 301.4 54.4 301.1 56.8C300.8 59.2 299.9 61.4 299.5 63.0C299.1 64.6 298.8 65.5 298.6 66.5C298.4 67.5 298.1 68.0 298.4 69.0C298.6 70.0 299.5 71.0 300.1 72.8C300.7 74.6 301.6 77.1 301.9 79.6C302.2 82.1 302.2 85.2 301.9 87.8C301.5 90.4 300.1 93.8 299.8 95.0"/>
<path class="p" stroke-width="3.8" d="M377.1 41.0C377.0 42.2 376.4 46.0 376.6 48.4C376.8 50.8 377.9 53.5 378.2 55.6C378.5 57.7 378.5 59.4 378.5 60.7C378.5 62.0 378.8 62.6 378.3 63.5C377.8 64.4 376.2 64.8 375.6 66.0C375.0 67.2 374.6 68.6 374.4 71.0C374.2 73.4 374.4 77.3 374.4 80.6C374.4 83.9 374.4 87.6 374.4 90.9C374.4 94.2 374.6 98.7 374.6 100.2M385.9 43.8C385.5 45.1 384.2 49.2 383.3 51.5C382.4 53.8 381.2 56.1 380.7 57.7C380.2 59.3 380.3 60.0 380.2 61.0C380.1 62.0 379.8 62.7 380.0 63.5C380.2 64.3 381.1 64.5 381.6 66.0C382.1 67.5 382.6 69.6 382.8 72.4C383.0 75.2 383.0 79.5 383.0 82.7C383.0 86.0 383.0 89.2 383.0 91.9C383.0 94.6 383.0 97.5 383.0 98.6M401.3 48.4C400.8 49.4 399.2 52.5 398.3 54.6C397.4 56.7 396.7 58.8 396.2 60.7C395.7 62.6 395.3 64.4 395.1 65.9C395.0 67.5 395.8 68.4 395.5 70.0C395.2 71.6 394.2 73.3 393.6 75.4C393.0 77.5 392.1 80.1 391.6 82.7C391.1 85.3 390.7 88.0 390.8 90.9C390.9 93.8 392.1 98.7 392.3 100.2M408.0 49.4C407.6 50.4 406.7 53.5 405.5 55.6C404.3 57.7 402.2 60.1 400.8 61.8C399.4 63.5 397.9 64.9 397.2 66.0C396.4 67.1 396.1 67.5 396.4 68.5C396.7 69.5 398.1 70.5 398.8 72.0C399.5 73.5 400.3 75.2 400.8 77.5C401.3 79.8 401.7 83.1 401.9 85.7C402.1 88.3 402.1 90.7 401.9 93.0C401.7 95.3 401.0 98.5 400.8 99.6"/>
<path class="p" stroke-width="3.8" d="M477.1 47.7C477.2 48.7 477.1 51.4 477.5 53.4C477.9 55.4 479.0 57.5 479.2 59.6C479.4 61.7 478.9 63.8 478.7 66.0C478.5 68.2 478.6 70.8 478.2 73.0C477.8 75.2 476.6 77.0 476.1 79.5C475.6 82.0 475.2 85.0 475.1 87.7C475.0 90.5 475.2 93.7 475.4 96.0C475.6 98.3 476.0 100.7 476.1 101.6M485.4 49.1C485.0 50.0 484.1 52.6 483.3 54.4C482.5 56.1 481.2 57.7 480.7 59.6C480.2 61.5 480.6 63.8 480.5 66.0C480.4 68.2 479.8 70.8 480.0 73.0C480.3 75.2 481.2 77.0 482.0 79.5C482.8 82.0 484.3 85.1 484.9 87.7C485.5 90.3 485.4 93.0 485.4 95.0C485.4 97.0 484.8 98.8 484.7 99.6M492.9 48.8C493.2 49.7 494.2 52.7 494.7 54.4C495.2 56.1 495.8 57.6 496.1 59.1C496.3 60.6 496.5 61.9 496.3 63.5C496.1 65.1 495.3 66.5 494.7 68.5C494.1 70.5 493.0 72.7 492.6 75.4C492.2 78.1 492.1 81.8 492.1 84.7C492.1 87.6 492.4 90.6 492.6 92.9C492.9 95.2 493.4 97.6 493.6 98.6M499.1 47.4C499.1 48.4 499.0 51.4 498.8 53.4C498.6 55.4 498.1 57.4 498.0 59.1C497.9 60.8 497.7 62.1 498.1 63.5C498.6 64.9 500.0 65.7 500.8 67.5C501.6 69.3 502.8 71.9 503.2 74.4C503.6 76.9 503.4 79.7 503.2 82.6C503.0 85.5 502.2 89.3 501.9 91.9C501.6 94.5 501.4 97.0 501.3 98.0"/>
<path class="p" stroke-width="3.8" d="M579.8 46.8C579.9 47.7 580.0 50.4 580.6 52.4C581.2 54.4 582.5 56.5 583.2 58.6C583.9 60.7 584.3 62.6 584.6 64.8C584.8 67.0 585.1 69.2 584.8 71.5C584.5 73.8 583.4 76.1 582.7 78.5C582.0 80.9 581.0 83.5 580.6 85.7C580.2 87.9 580.5 90.1 580.6 91.9C580.7 93.7 581.3 95.8 581.4 96.6M587.6 45.2C587.5 46.4 587.5 50.0 587.3 52.4C587.1 54.8 586.8 57.5 586.6 59.6C586.4 61.8 586.3 63.3 586.3 65.3C586.3 67.3 586.2 69.5 586.6 71.5C587.0 73.5 588.0 75.5 588.6 77.5C589.2 79.5 589.9 81.5 590.1 83.7C590.3 85.9 590.1 89.0 589.9 90.9C589.7 92.8 589.1 94.3 589.0 95.0M602.4 48.8C602.5 49.8 602.4 52.5 602.7 54.5C603.0 56.5 603.9 58.7 604.3 60.7C604.7 62.8 605.1 64.7 605.2 66.8C605.2 68.9 605.2 71.2 604.5 73.5C603.9 75.8 602.1 78.2 601.2 80.6C600.3 83.0 599.3 85.6 598.9 87.8C598.5 90.0 598.5 92.2 598.6 94.0C598.7 95.8 599.4 97.8 599.6 98.6M610.7 48.8C610.5 49.9 609.9 53.4 609.4 55.5C608.9 57.6 608.0 59.7 607.6 61.7C607.2 63.7 606.9 65.4 606.7 67.4C606.5 69.4 606.2 71.7 606.4 73.5C606.5 75.3 607.1 76.5 607.6 78.5C608.1 80.5 609.3 83.3 609.6 85.7C609.9 88.1 609.6 91.0 609.4 93.0C609.2 95.0 608.4 96.8 608.2 97.6"/>
<path class="p" stroke-width="3.8" d="M54.4 164.8C54.8 165.9 56.3 169.2 57.0 171.5C57.7 173.8 58.3 176.3 58.5 178.7C58.7 181.1 58.2 183.3 58.0 185.9C57.8 188.5 57.2 191.1 57.0 194.1C56.8 197.1 56.6 202.3 56.5 203.9M61.8 161.7C62.0 162.8 63.0 166.1 63.2 168.4C63.4 170.7 63.6 173.4 63.2 175.6C62.9 177.8 61.6 180.1 61.1 181.8C60.6 183.5 59.9 183.9 60.1 185.9C60.3 187.9 61.2 191.0 62.1 194.1C63.0 197.2 65.1 202.7 65.7 204.4M89.9 164.5C88.8 164.9 85.3 165.6 83.3 166.8C81.3 168.0 79.3 169.7 78.1 171.5C76.9 173.3 76.4 176.0 76.0 177.7C75.6 179.4 76.0 179.8 75.5 181.8C75.0 183.9 73.5 187.2 73.0 190.0C72.5 192.8 72.3 195.9 72.4 198.3C72.5 200.7 73.3 203.4 73.5 204.4M93.0 169.4C92.1 170.0 89.4 171.7 87.4 173.0C85.4 174.3 82.8 175.8 81.2 177.1C79.7 178.4 78.4 179.1 78.1 180.7C77.8 182.3 79.1 184.3 79.6 186.9C80.1 189.5 81.0 193.3 81.2 196.2C81.4 199.1 81.0 203.0 81.0 204.4"/>
<path class="p" stroke-width="3.8" d="M166.5 163.8C166.6 164.7 167.1 167.9 167.3 169.4C167.5 170.9 167.7 171.7 167.5 173.0C167.3 174.3 166.6 175.6 166.0 177.1C165.4 178.6 164.2 179.8 163.9 181.8C163.6 183.8 163.7 186.6 163.9 189.0C164.1 191.4 164.8 194.0 164.9 196.2C165.0 198.4 164.7 201.4 164.6 202.4M174.5 165.3C173.9 166.1 172.1 168.5 171.1 169.9C170.1 171.3 168.9 172.0 168.3 173.5C167.7 175.0 167.5 176.8 167.7 178.7C167.9 180.6 168.9 182.7 169.6 184.9C170.3 187.1 171.4 189.2 172.1 192.1C172.8 195.0 173.3 200.7 173.5 202.4M186.3 163.2C186.7 164.1 187.9 166.8 188.6 168.4C189.2 170.0 190.3 171.4 190.2 173.0C190.1 174.6 189.0 176.1 188.1 177.7C187.2 179.3 185.3 180.8 184.5 182.8C183.7 184.9 183.6 187.6 183.5 190.0C183.4 192.4 184.0 195.2 184.0 197.2C184.0 199.2 183.6 201.1 183.5 201.9M196.3 164.8C195.8 165.5 194.2 167.5 193.3 168.9C192.4 170.3 191.2 171.7 190.7 173.5C190.2 175.3 190.2 177.5 190.4 179.7C190.6 181.9 191.3 184.2 191.7 186.9C192.1 189.7 192.6 193.3 192.7 196.2C192.8 199.1 192.3 203.0 192.2 204.4"/>
<path class="p" stroke-width="3.8" d="M277.7 163.3C278.2 164.0 279.7 165.9 280.6 167.4C281.5 168.9 283.0 170.6 283.2 172.1C283.4 173.6 282.4 174.7 281.6 176.7C280.8 178.7 279.4 181.3 278.5 183.9C277.6 186.5 276.6 189.7 276.0 192.1C275.4 194.5 275.2 196.8 275.2 198.3C275.2 199.9 275.9 200.9 276.0 201.4M287.6 159.0C287.4 160.1 286.9 163.3 286.3 165.4C285.7 167.5 284.6 169.4 284.2 171.5C283.8 173.6 283.6 175.3 283.7 177.7C283.8 180.1 284.2 183.2 284.5 186.0C284.8 188.8 285.2 191.3 285.2 194.2C285.2 197.1 284.8 201.9 284.7 203.5M301.4 157.6C301.6 158.6 302.1 161.3 302.7 163.3C303.3 165.3 304.6 167.6 304.8 169.5C305.0 171.4 304.5 172.5 303.8 174.6C303.1 176.7 301.7 179.4 300.7 181.8C299.7 184.2 298.3 186.6 297.6 189.0C296.9 191.4 296.4 194.3 296.3 196.3C296.2 198.3 297.0 200.1 297.1 200.9M308.6 158.4C308.4 159.4 308.1 162.4 307.6 164.3C307.1 166.2 306.2 167.9 305.8 170.0C305.4 172.1 305.3 174.4 305.3 176.7C305.3 179.0 305.6 181.0 305.8 183.9C306.0 186.8 306.3 190.9 306.3 194.2C306.3 197.5 305.9 201.9 305.8 203.5"/>
<path class="p" stroke-width="3.8" d="M373.7 159.7C374.2 160.5 375.7 163.1 376.6 164.8C377.5 166.5 378.9 168.4 379.2 170.0C379.5 171.6 378.9 173.0 378.2 174.6C377.5 176.2 375.7 177.7 375.1 179.8C374.5 181.9 374.9 184.6 374.8 187.0C374.7 189.4 374.9 191.9 374.4 194.2C373.8 196.5 372.0 199.8 371.5 200.9M383.6 160.0C383.3 160.9 382.6 163.7 382.0 165.4C381.4 167.2 380.4 168.9 380.2 170.5C380.0 172.1 380.1 173.4 380.7 175.1C381.3 176.8 383.6 178.7 384.0 180.8C384.4 183.0 383.7 185.6 383.3 188.0C382.9 190.4 381.8 193.0 381.6 195.2C381.4 197.4 381.9 200.4 382.0 201.4M395.4 162.8C395.8 163.7 397.0 166.2 397.7 167.9C398.4 169.6 399.4 171.5 399.5 173.1C399.6 174.7 398.9 175.9 398.3 177.7C397.7 179.5 396.1 181.7 395.7 183.9C395.3 186.1 396.0 188.9 396.2 191.1C396.4 193.3 396.8 195.4 396.7 197.3C396.6 199.2 395.9 201.6 395.7 202.4M403.4 163.1C403.1 164.0 402.1 166.7 401.5 168.4C400.9 170.2 400.2 171.7 399.8 173.6C399.4 175.5 399.2 177.6 399.3 179.8C399.4 182.0 399.8 184.6 400.3 187.0C400.8 189.4 401.6 191.8 402.4 194.2C403.2 196.6 404.5 200.2 404.9 201.4"/>
<path class="p" stroke-width="3.8" d="M470.7 163.4C471.1 164.2 472.5 166.8 473.3 168.4C474.1 170.0 475.2 171.3 475.4 173.0C475.6 174.7 475.1 176.5 474.6 178.7C474.2 180.8 473.1 183.3 472.7 185.9C472.3 188.5 472.0 191.5 472.0 194.1C472.0 196.7 472.4 200.1 472.5 201.3M482.3 164.5C481.8 165.2 480.1 167.4 479.2 168.9C478.3 170.4 477.0 171.7 476.8 173.5C476.6 175.3 477.3 177.5 477.9 179.7C478.5 181.9 480.0 184.3 480.2 186.9C480.4 189.5 479.8 192.5 479.2 195.2C478.6 197.9 477.2 201.6 476.8 202.9M489.5 163.8C490.0 164.6 491.4 166.9 492.3 168.4C493.2 169.9 494.6 171.1 494.7 173.0C494.8 174.9 493.7 177.4 493.1 179.7C492.5 182.0 491.4 184.3 491.0 186.9C490.6 189.5 490.5 192.8 490.5 195.2C490.5 197.6 490.9 200.3 491.0 201.3M501.3 164.5C500.8 165.2 499.2 167.4 498.3 168.9C497.4 170.4 496.2 171.7 496.0 173.5C495.8 175.3 496.7 177.5 497.2 179.7C497.7 181.9 498.7 184.3 498.8 186.9C498.9 189.5 498.2 192.6 497.7 195.2C497.2 197.8 496.0 201.4 495.7 202.6"/>
<path class="p" stroke-width="3.8" d="M581.8 164.1C582.2 164.8 583.4 167.0 584.2 168.4C585.0 169.8 586.4 170.9 586.6 172.6C586.8 174.3 585.8 176.3 585.2 178.7C584.6 181.1 583.6 184.4 583.2 187.0C582.8 189.6 582.7 192.1 582.7 194.2C582.7 196.2 583.1 198.5 583.2 199.3M590.1 162.8C589.9 163.6 589.2 165.8 588.8 167.4C588.4 169.0 587.6 170.7 587.6 172.6C587.6 174.5 588.2 176.5 588.8 178.7C589.3 180.9 590.5 183.6 590.9 186.0C591.3 188.4 591.3 191.0 591.1 193.2C590.9 195.4 590.1 198.3 589.9 199.3M600.4 161.4C600.5 162.2 600.8 164.4 601.2 165.9C601.6 167.4 602.8 168.7 602.7 170.5C602.6 172.3 601.4 174.5 600.7 176.7C600.0 178.9 599.1 181.3 598.6 183.9C598.1 186.5 597.7 189.9 597.6 192.1C597.5 194.3 597.8 195.8 598.1 197.3C598.4 198.8 599.4 200.3 599.6 200.9M608.4 162.3C608.0 163.0 607.1 165.0 606.3 166.4C605.5 167.8 604.3 169.1 603.8 171.0C603.3 172.9 603.0 175.4 603.3 177.7C603.5 180.0 604.7 182.2 605.3 184.9C605.9 187.7 606.6 191.1 606.9 194.2C607.2 197.3 606.9 201.9 606.9 203.5"/>
<path class="p" stroke-width="3.8" d="M61.3 274.5C61.6 275.1 63.0 276.9 63.0 278.4C63.0 279.9 61.9 281.4 61.3 283.5C60.7 285.6 59.6 288.1 59.2 290.7C58.8 293.3 58.6 296.1 58.7 299.0C58.8 301.9 59.5 306.8 59.7 308.3M66.9 274.5C66.6 275.1 65.1 277.1 64.9 278.4C64.7 279.7 65.5 280.8 65.9 282.5C66.3 284.2 67.2 286.1 67.4 288.7C67.6 291.3 67.4 294.7 67.1 298.0C66.8 301.3 65.7 306.6 65.4 308.3M75.2 273.0C75.6 273.7 77.4 275.8 77.7 277.4C78.0 279.0 77.5 280.4 77.2 282.5C76.9 284.6 76.0 287.1 75.7 289.7C75.5 292.3 75.6 295.2 75.7 298.0C75.8 300.8 76.1 304.8 76.2 306.2M81.6 273.2C81.2 273.9 79.6 275.8 79.5 277.4C79.4 278.9 80.2 280.4 80.8 282.5C81.4 284.6 82.5 287.1 82.9 289.7C83.3 292.3 83.4 295.2 83.2 298.0C83.0 300.8 82.1 304.8 81.9 306.2"/>
<path class="p" stroke-width="3.8" d="M167.9 282.2C168.4 282.7 170.0 284.3 170.7 285.4C171.4 286.4 172.5 287.1 172.3 288.5C172.1 289.9 170.4 291.6 169.7 293.7C169.0 295.8 168.3 298.0 168.2 300.9C168.1 303.8 169.0 309.5 169.2 311.2M177.1 280.3C176.7 281.0 175.5 283.0 174.9 284.4C174.3 285.8 173.4 286.9 173.6 288.5C173.8 290.1 175.3 291.6 175.9 293.7C176.5 295.8 177.0 298.0 176.9 300.9C176.8 303.8 175.7 309.5 175.4 311.2M185.4 282.4C185.9 282.9 187.7 284.4 188.3 285.4C189.0 286.4 189.5 287.1 189.3 288.5C189.1 289.9 187.6 291.6 187.0 293.7C186.4 295.8 185.8 298.1 185.7 300.9C185.6 303.7 186.5 309.1 186.7 310.7M193.4 280.8C193.0 281.5 191.6 283.6 191.1 284.9C190.6 286.2 190.0 287.0 190.3 288.5C190.6 290.0 192.2 291.6 192.9 293.7C193.6 295.8 194.3 298.2 194.4 300.9C194.5 303.5 193.7 308.2 193.6 309.6"/>
<path class="p" stroke-width="3.8" d="M271.4 281.1C271.8 281.7 273.4 283.2 273.5 284.4C273.6 285.6 272.7 286.8 272.1 288.5C271.5 290.2 270.1 292.3 269.8 294.7C269.5 297.1 270.2 300.4 270.1 303.0C270.0 305.6 269.7 308.2 269.1 310.2C268.5 312.2 266.9 314.0 266.5 314.8M277.0 280.8C276.6 281.4 275.0 283.1 274.9 284.4C274.8 285.7 275.7 286.6 276.3 288.5C276.9 290.4 278.2 293.3 278.6 295.7C279.0 298.1 279.2 300.6 278.8 303.0C278.4 305.4 276.8 308.1 276.3 310.2C275.8 312.3 275.8 314.9 275.7 315.8M291.2 281.1C291.6 281.7 293.1 283.0 293.3 284.4C293.5 285.8 292.8 287.5 292.4 289.6C292.0 291.7 290.9 294.4 290.7 296.8C290.5 299.2 290.9 301.8 291.2 304.0C291.5 306.2 292.6 308.4 292.7 310.2C292.8 312.0 291.9 314.0 291.7 314.8M296.6 281.3C296.3 281.9 294.9 283.5 294.8 284.9C294.8 286.3 295.5 287.6 296.3 289.6C297.1 291.6 298.7 294.4 299.4 296.8C300.1 299.2 300.5 301.6 300.5 304.0C300.5 306.4 299.3 309.1 299.2 311.2C299.1 313.2 299.8 315.4 299.9 316.3"/>
<path class="p" stroke-width="3.8" d="M378.7 282.2C379.1 282.9 380.3 285.0 381.1 286.5C381.9 288.0 383.2 289.6 383.5 291.1C383.8 292.6 383.5 293.9 382.9 295.7C382.3 297.5 380.9 299.8 380.1 301.9C379.3 304.0 378.4 307.5 378.0 308.6M389.7 282.2C389.3 283.0 388.1 285.4 387.3 287.0C386.5 288.6 385.3 290.0 384.9 291.6C384.5 293.2 384.3 294.9 384.7 296.8C385.1 298.7 386.3 301.1 387.0 303.0C387.7 304.9 388.5 307.2 388.8 308.1M403.0 281.1C403.2 282.0 404.0 284.8 404.5 286.5C405.0 288.2 406.0 289.9 406.1 291.6C406.2 293.3 406.0 294.7 405.3 296.8C404.6 298.9 403.0 301.5 402.2 304.0C401.4 306.5 400.9 310.4 400.7 311.7M411.7 283.9C411.3 284.7 410.1 287.0 409.4 288.5C408.7 290.0 407.8 291.1 407.4 292.7C407.0 294.2 406.6 295.9 406.9 297.8C407.2 299.7 408.6 301.8 409.2 304.0C409.8 306.2 410.3 310.0 410.5 311.2"/>
<path class="p" stroke-width="3.8" d="M483.3 283.5C483.6 284.2 484.6 286.4 485.1 287.7C485.7 289.0 486.7 289.9 486.6 291.3C486.5 292.7 485.2 294.3 484.6 295.9C484.0 297.5 483.0 299.1 482.7 301.0C482.4 302.9 482.9 306.2 483.0 307.2M491.6 282.7C491.2 283.4 490.1 285.7 489.5 287.1C488.9 288.5 488.1 289.8 487.9 291.3C487.7 292.8 487.8 294.3 488.2 295.9C488.6 297.5 489.6 299.3 490.2 301.0C490.8 302.7 491.4 305.3 491.6 306.2M500.5 281.3C500.9 282.0 502.2 284.2 502.9 285.6C503.6 287.0 504.8 288.2 504.7 289.7C504.6 291.2 503.3 292.8 502.6 294.4C501.9 296.0 500.9 297.7 500.5 299.5C500.1 301.3 500.5 304.2 500.5 305.2M508.8 279.4C508.5 280.3 507.7 282.9 507.2 284.6C506.7 286.3 506.2 288.0 506.0 289.7C505.8 291.4 505.9 293.2 506.2 294.9C506.5 296.6 507.6 298.3 508.0 300.0C508.4 301.7 508.7 304.3 508.8 305.2"/>
<path class="o" stroke-width="3.5" d="M577.9 285.6C578.2 286.3 579.3 288.6 579.8 289.9C580.3 291.2 580.9 292.0 580.7 293.6C580.5 295.2 579.0 297.4 578.4 299.3C577.8 301.2 577.1 303.2 576.9 304.9C576.7 306.5 577.2 308.5 577.2 309.2M583.5 284.7C583.4 285.5 582.8 287.9 582.6 289.4C582.4 290.9 582.0 292.0 582.1 293.6C582.2 295.2 583.1 297.4 583.5 299.3C583.9 301.2 584.4 303.2 584.5 304.9C584.6 306.6 584.2 308.8 584.2 309.6M595.8 284.7C596.1 285.3 597.1 287.2 597.6 288.5C598.1 289.8 598.8 290.8 598.6 292.2C598.4 293.6 597.0 295.2 596.2 296.9C595.4 298.5 594.4 300.4 593.9 302.1C593.4 303.8 593.5 306.4 593.4 307.3M605.2 285.6C604.7 286.2 602.9 287.7 601.9 288.9C600.9 290.1 599.9 291.1 599.5 292.7C599.1 294.3 599.3 296.5 599.5 298.4C599.7 300.3 600.3 302.1 600.5 304.0C600.7 305.9 600.5 308.7 600.5 309.6M614.6 284.7C614.9 285.4 616.0 287.5 616.5 288.9C617.0 290.3 617.5 291.6 617.4 293.2C617.3 294.8 616.5 296.8 616.0 298.4C615.5 300.0 614.6 301.5 614.3 303.1C614.0 304.7 614.1 307.4 614.1 308.2M620.7 283.3C620.6 284.2 620.4 286.9 620.2 288.5C620.0 290.1 619.5 291.6 619.6 293.2C619.7 294.8 620.4 296.8 620.7 298.4C621.0 300.0 621.5 301.5 621.6 303.1C621.7 304.7 621.5 307.0 621.5 307.8"/>
<path class="p" stroke-width="3.8" d="M61.6 391.2C61.7 391.9 61.8 394.1 62.3 395.4C62.8 396.7 64.4 397.9 64.6 399.2C64.8 400.5 64.0 402.1 63.2 403.4C62.4 404.7 60.2 405.9 59.5 407.2C58.8 408.5 59.1 410.7 59.0 411.4M69.5 391.6C69.3 392.3 68.8 394.6 68.2 395.9C67.6 397.2 66.5 398.2 66.1 399.6C65.7 401.0 65.6 402.8 65.8 404.4C66.0 406.0 67.1 407.5 67.3 409.1C67.5 410.7 66.8 413.0 66.7 413.8M78.0 391.0C78.3 391.6 79.2 393.7 79.9 394.9C80.7 396.1 82.4 396.9 82.5 398.2C82.6 399.5 81.5 401.2 80.6 402.5C79.7 403.8 77.7 404.8 76.9 406.2C76.1 407.6 76.1 410.1 75.9 410.9M87.0 390.7C86.8 391.4 86.3 393.6 85.8 394.9C85.3 396.2 84.2 397.3 83.9 398.7C83.6 400.1 83.7 401.8 83.9 403.4C84.2 405.0 85.2 406.5 85.4 408.1C85.6 409.8 85.0 412.4 84.9 413.3"/>
<path class="p" stroke-width="3.8" d="M168.0 394.9C168.3 395.5 169.5 397.5 170.1 398.7C170.7 399.9 171.8 400.7 171.7 402.0C171.6 403.3 170.1 405.1 169.6 406.7C169.1 408.3 168.7 410.6 168.5 411.4M176.7 394.0C176.4 394.7 175.4 396.9 174.8 398.2C174.2 399.5 173.1 400.7 172.9 402.0C172.8 403.3 173.5 404.7 173.9 406.2C174.3 407.7 175.2 410.1 175.5 410.9M183.0 395.1C183.4 395.7 184.8 397.6 185.6 398.7C186.4 399.8 188.0 400.8 188.0 402.0C188.0 403.2 186.3 404.6 185.6 406.2C184.9 407.8 183.9 410.5 183.6 411.4M192.2 394.2C191.9 394.9 190.9 396.9 190.4 398.2C189.9 399.5 189.0 400.5 188.9 402.0C188.8 403.5 189.4 405.3 189.9 407.2C190.4 409.1 191.5 412.3 191.8 413.3"/>
<path class="p" stroke-width="3.8" d="M275.4 395.7C275.7 396.3 276.8 398.1 277.3 399.2C277.8 400.2 278.7 400.9 278.4 402.0C278.1 403.1 276.7 404.6 275.6 405.8C274.5 407.1 272.4 408.9 271.8 409.5M282.0 395.4C281.8 395.9 281.2 397.5 280.8 398.7C280.4 399.9 279.5 401.2 279.4 402.5C279.3 403.8 279.9 405.4 280.3 406.7C280.7 408.0 281.5 409.9 281.7 410.5M294.4 397.8C294.7 398.4 295.8 400.1 296.3 401.1C296.8 402.1 297.4 402.9 297.2 403.9C297.0 404.9 296.0 406.2 295.4 407.2C294.8 408.2 293.8 409.4 293.5 409.8M299.6 397.3C299.5 397.9 299.3 399.5 299.1 400.6C298.9 401.7 298.4 402.7 298.6 403.9C298.8 405.1 299.5 406.3 300.1 407.6C300.7 408.9 302.0 411.2 302.4 411.9"/>
<path class="p" stroke-width="3.8" d="M401.2 393.5C401.5 394.0 402.5 395.5 402.9 396.4C403.3 397.3 403.7 397.6 403.4 398.7C403.1 399.8 401.7 401.4 401.0 402.9C400.3 404.4 399.4 406.8 399.1 407.6M406.8 393.8C406.5 394.2 405.6 395.5 405.2 396.4C404.8 397.3 404.3 397.9 404.3 399.2C404.3 400.5 405.0 402.7 405.2 404.4C405.4 406.1 405.6 408.6 405.7 409.5M424.1 393.5C424.4 394.0 425.4 395.5 425.9 396.4C426.4 397.3 427.0 397.7 426.9 398.7C426.8 399.7 425.6 401.1 425.3 402.5C425.0 403.9 425.1 406.4 425.0 407.2M430.0 394.2C429.8 394.6 428.9 396.0 428.5 396.8C428.1 397.6 427.7 398.2 427.8 399.2C427.9 400.2 429.0 401.6 429.4 402.9C429.8 404.1 429.9 406.1 430.0 406.7"/>
<path class="p" stroke-width="3.8" d="M573.6 374.3C573.4 375.6 572.6 379.3 572.6 381.8C572.6 384.3 573.1 386.9 573.6 389.3C574.1 391.7 575.8 393.7 575.7 396.2C575.6 398.7 574.2 401.6 573.2 404.4C572.2 407.2 570.4 410.5 569.4 413.2C568.4 415.9 567.7 418.4 567.5 420.7C567.3 423.0 568.1 425.9 568.2 427.0M583.2 376.2C583.0 377.4 582.6 380.7 582.0 383.1C581.4 385.5 580.4 388.2 579.5 390.6C578.6 393.0 577.0 395.0 576.6 397.5C576.2 400.0 577.1 402.8 577.3 405.6C577.5 408.4 577.8 411.9 577.8 414.4C577.8 416.9 577.4 418.7 577.3 420.7C577.2 422.7 577.0 425.4 577.0 426.3M611.2 374.3C611.0 375.3 610.3 378.3 610.2 380.5C610.1 382.7 610.3 385.1 610.8 387.4C611.3 389.7 613.1 392.0 613.0 394.3C612.9 396.6 611.2 398.9 610.2 401.2C609.2 403.5 607.9 405.8 607.1 408.1C606.3 410.4 605.4 413.0 605.2 415.0C605.0 417.0 605.7 419.2 605.8 420.1M620.9 376.2C620.6 377.4 619.9 380.8 619.2 383.1C618.5 385.4 617.4 387.9 616.5 390.0C615.6 392.1 614.2 393.4 614.0 395.6C613.8 397.8 614.7 400.6 615.0 403.1C615.3 405.6 615.9 408.1 615.9 410.7C615.9 413.3 615.3 417.4 615.2 418.8"/>
<circle cx="603.1" cy="304.6" r="52.5" fill="none" stroke="#616161" stroke-width="5.4"/>
<text class="l" transform="translate(73.5 130) scale(1 1.05)">1</text>
<text class="l" transform="translate(175 129.7) scale(1 1.05)">2</text>
<text class="l" transform="translate(286.3 129.7) scale(1 1.05)">3</text>
<text class="l" transform="translate(385 130.2) scale(1 1.05)">4</text>
<text class="l" transform="translate(489 131) scale(1 1.05)">5</text>
<text class="l" transform="translate(593 130) scale(1 1.05)">6</text>
<text class="l" transform="translate(73 237) scale(1 1.05)">7</text>
<text class="l" transform="translate(182 237.3) scale(1 1.05)">8</text>
<text class="l" transform="translate(292 237.5) scale(1 1.05)">9</text>
<text class="l" transform="translate(393.3 237.2) scale(1 1.05)">10</text>
<text class="l" transform="translate(492.2 238.7) scale(1 1.05)">11</text>
<text class="l" transform="translate(598.2 237.2) scale(1 1.05)">12</text>
<text class="l" transform="translate(73.6 346.7) scale(1 1.05)">13</text>
<text class="l" transform="translate(184.2 347) scale(1 1.05)">14</text>
<text class="l" transform="translate(284.1 347.5) scale(1 1.05)">15</text>
<text class="l" transform="translate(394.2 346.8) scale(1 1.05)">16</text>
<text class="l" transform="translate(503.5 346.8) scale(1 1.05)">17</text>
<text class="l" transform="translate(601.6 346.5) scale(1 1.05)">18</text>
<text class="l" transform="translate(73.6 450.2) scale(1 1.05)">19</text>
<text class="l" transform="translate(181.2 452) scale(1 1.05)">20</text>
<text class="l" transform="translate(286.8 451.8) scale(1 1.05)">21</text>
<text class="l" transform="translate(414 451.8) scale(1 1.05)">22</text>
<text class="l" transform="translate(579 456) scale(1 1.05)">X</text>
<text class="l" transform="translate(612 456) scale(1 1.05)">X</text>
</svg>
</body></html>
